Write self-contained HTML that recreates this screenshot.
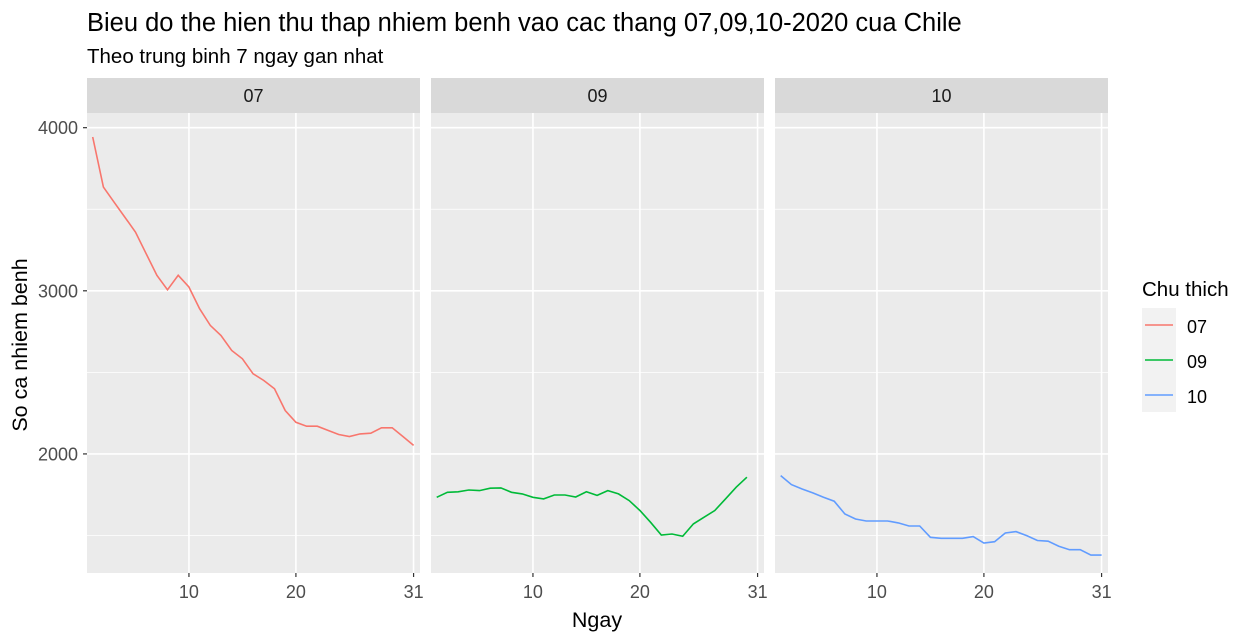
<!DOCTYPE html>
<html><head><meta charset="utf-8"><style>
body{margin:0;background:#fff;}
svg{display:block;font-family:"Liberation Sans",Arial,sans-serif;}
</style></head><body>
<svg id="chart" width="1252" height="640" viewBox="0 0 1252 640">
<text x="87" y="31" font-size="25.5" fill="#000">Bieu do the hien thu thap nhiem benh vao cac thang 07,09,10-2020 cua Chile</text>
<text x="87" y="63" font-size="20.5" fill="#000">Theo trung binh 7 ngay gan nhat</text>
<text transform="translate(27,345) rotate(-90)" text-anchor="middle" font-size="21.5" fill="#000">So ca nhiem benh</text>
<text x="597" y="627" text-anchor="middle" font-size="21.5" fill="#000">Ngay</text>
<g id="panels"></g>
<g>
<text x="1142" y="296" font-size="20.5" fill="#000">Chu thich</text>
<rect x="1142" y="308" width="34" height="104" fill="#f2f2f2"/>
<line x1="1145" x2="1173" y1="325" y2="325" stroke="#F8766D" stroke-width="1.6"/>
<line x1="1145" x2="1173" y1="360" y2="360" stroke="#00BA38" stroke-width="1.6"/>
<line x1="1145" x2="1173" y1="395" y2="395" stroke="#619CFF" stroke-width="1.6"/>
<text x="1187" y="333" font-size="18" fill="#000">07</text>
<text x="1187" y="368" font-size="18" fill="#000">09</text>
<text x="1187" y="403" font-size="18" fill="#000">10</text>
</g>
</svg>
<script>
const months = ["07","09","10"];
const colors = ["#F8766D","#00BA38","#619CFF"];
const jul = [3943,3636,3543,3452,3360,3227,3095,3006,3095,3023,2890,2788,2726,2634,2583,2491,2450,2399,2266,2194,2170,2170,2144,2119,2107,2123,2127,2160,2160,2107,2052];
const sep = [1734,1765,1768,1779,1775,1790,1792,1765,1755,1734,1724,1748,1748,1736,1768,1746,1775,1755,1714,1653,1581,1503,1509,1495,1571,1612,1653,1724,1796,1857];
const oct = [1867,1812,1785,1761,1734,1710,1632,1601,1589,1589,1589,1577,1558,1558,1489,1483,1483,1483,1493,1454,1462,1515,1524,1499,1469,1465,1434,1413,1413,1380,1380];
const yTicks = [2000,3000,4000];
const yMinor = [1500,2500,3500];
const xTicks = [10,20,31];
const series = [jul, sep, oct];

const NS = "http://www.w3.org/2000/svg";
const panelLefts = [87,431,775];
const panelW = 333, plotTop = 113, plotBottom = 573;
const xMin = 0.47, xMax = 31.6, yMin = 1270, yMax = 4090;
function yScale(v){ return plotBottom - (v - yMin) / (yMax - yMin) * (plotBottom - plotTop); }
function mk(tag, attrs, parent){ const e = document.createElementNS(NS, tag); for (const k in attrs) e.setAttribute(k, attrs[k]); parent.appendChild(e); return e; }
const root = document.getElementById("panels");
months.forEach((m, i) => {
  const L = panelLefts[i];
  const xScale = d => L + (d - xMin) / (xMax - xMin) * panelW;
  const g = mk("g", {}, root);
  
  
  const strip = mk("rect", {x:L, y:78, width:panelW, height:35, fill:"#d9d9d9"}, g);
  
  
  const st = mk("text", {x:L + panelW/2, y:102, "text-anchor":"middle", "font-size":18, fill:"#1a1a1a"}, g);
  st.textContent = m;
  
  
  const bg = mk("rect", {x:L, y:plotTop, width:panelW, height:plotBottom-plotTop, fill:"#ebebeb"}, g);
  
  
  yMinor.forEach(v => {
    const ln = mk("line", {x1:L, x2:L+panelW, y1:yScale(v), y2:yScale(v), stroke:"#fff", "stroke-width":0.8}, g);
    
    
  });
  yTicks.forEach(v => {
    const ln = mk("line", {x1:L, x2:L+panelW, y1:yScale(v), y2:yScale(v), stroke:"#fff", "stroke-width":1.6}, g);
    
    
  });
  xTicks.forEach(d => {
    const x = xScale(d);
    const ln = mk("line", {x1:x, x2:x, y1:plotTop, y2:plotBottom, stroke:"#fff", "stroke-width":1.6}, g);
    
    
    const tk = mk("line", {x1:x, x2:x, y1:plotBottom, y2:plotBottom+4, stroke:"#333", "stroke-width":1.2}, g);
    
    
    const t = mk("text", {x:x, y:598, "text-anchor":"middle", "font-size":18, fill:"#4d4d4d"}, g);
    t.textContent = d;
    
    
  });
  const pts = series[i].map((v, k) => xScale(k + 1).toFixed(1) + "," + yScale(v).toFixed(1)).join(" ");
  const pl = mk("polyline", {points:pts, fill:"none", stroke:colors[i], "stroke-width":1.6}, g);
  
  
});
yTicks.forEach(v => {
  const y = yScale(v);
  const tk = mk("line", {x1:83, x2:87, y1:y, y2:y, stroke:"#333", "stroke-width":1.2}, root);
  
  
  const t = mk("text", {x:78, y:y+6.5, "text-anchor":"end", "font-size":18, fill:"#4d4d4d"}, root);
  t.textContent = v;
  
  
});
</script>
</body></html>
